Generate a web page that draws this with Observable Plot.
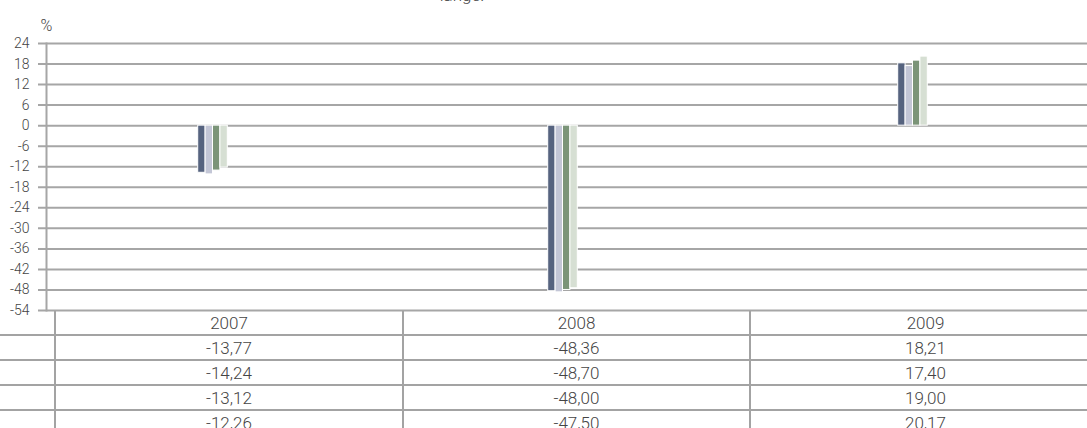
<!DOCTYPE html>
<html>
<head>
<meta charset="utf-8">
<script src="https://cdn.jsdelivr.net/npm/d3@7"></script>
<script src="https://cdn.jsdelivr.net/npm/@observablehq/plot@0.6"></script>
<style>
  body { margin:0; width:1087px; height:428px; overflow:hidden; position:relative; background:#fff;
         font-family: Roboto, "Liberation Sans", sans-serif; font-weight:300; color:#444; }
  #title { position:absolute; top:-13px; left:0; width:924px; text-align:center; font-size:17px; line-height:17px; z-index:2; }
  #chart svg { display:block; }
  #table { position:relative; margin-top:-8px; z-index:1; }
  table { border-collapse:collapse; table-layout:fixed; width:1100px; font-size:17px; }
  td { height:23px; padding:0; text-align:center; border-top:2px solid #a3a3a3; border-left:2px solid #a3a3a3; line-height:20px; }
  tr.head td { border-top:none; }
  td:first-child { border-left:none; }
</style>
</head>
<body>
<div id="title">lange.</div>
<div id="chart"></div>
<div id="table"></div>
<script>
const years = ["2007", "2008", "2009"];
const seriesA = [-13.77, -48.36, 18.21];
const seriesB = [-14.24, -48.70, 17.40];
const seriesC = [-13.12, -48.00, 19.00];
const seriesD = [-12.26, -47.50, 20.17];
const yTicks = [24, 18, 12, 6, 0, -6, -12, -18, -24, -30, -36, -42, -48, -54];
const colors = ["#56637f", "#c3c6d6", "#7b9478", "#d6dfd3"];
const allSeries = [seriesA, seriesB, seriesC, seriesD];

const barW = 7.4, groupStart = 160.7, step = 350;

const chart = Plot.plot({
  width: 1087,
  height: 319,
  marginTop: 43,
  marginBottom: 9,
  marginLeft: 46,
  marginRight: 0,
  style: "font-family: Roboto, 'Liberation Sans', sans-serif; font-size:14px; font-weight:300; color:#444; background:transparent;",
  x: { type: "band", domain: years, range: [37, 1087], padding: 0, axis: null },
  y: { domain: [-54, 24], axis: null },
  marks: [
    Plot.ruleY(yTicks, { stroke: "#a6a6a6", strokeWidth: 2, insetLeft: -8 }),
    Plot.frame({ anchor: "left", stroke: "#a6a6a6", strokeWidth: 2 }),
    Plot.axisY(yTicks, { tickSize: 0, tickPadding: 17, fill: "#444", fontSize: 14, tickFormat: d => String(d), label: null }),
    Plot.text(["%"], { frameAnchor: "top-left", dy: -24, textAnchor: "middle", fill: "#444", fontSize: 16 }),
    ...allSeries.map((vals, i) => Plot.barY(years, {
      x: d => d,
      y: (d, j) => vals[j],
      fill: colors[i],
      stroke: "white",
      strokeWidth: 1,
      insetLeft: groupStart + barW * i,
      insetRight: step - (groupStart + barW * i) - barW
    }))
  ]
});
document.getElementById("chart").append(chart);

const fmt = v => v.toFixed(2).replace(".", ",");
const table = d3.select("#table").append("table");
const cg = table.append("colgroup");
[55, 348, 347, 350].forEach(w => cg.append("col").style("width", w + "px"));
const hdr = table.append("tr").attr("class", "head");
hdr.append("td");
years.forEach(y => hdr.append("td").text(y));
allSeries.forEach(vals => {
  const tr = table.append("tr");
  tr.append("td");
  vals.forEach(v => tr.append("td").text(fmt(v)));
});
</script>
</body>
</html>
